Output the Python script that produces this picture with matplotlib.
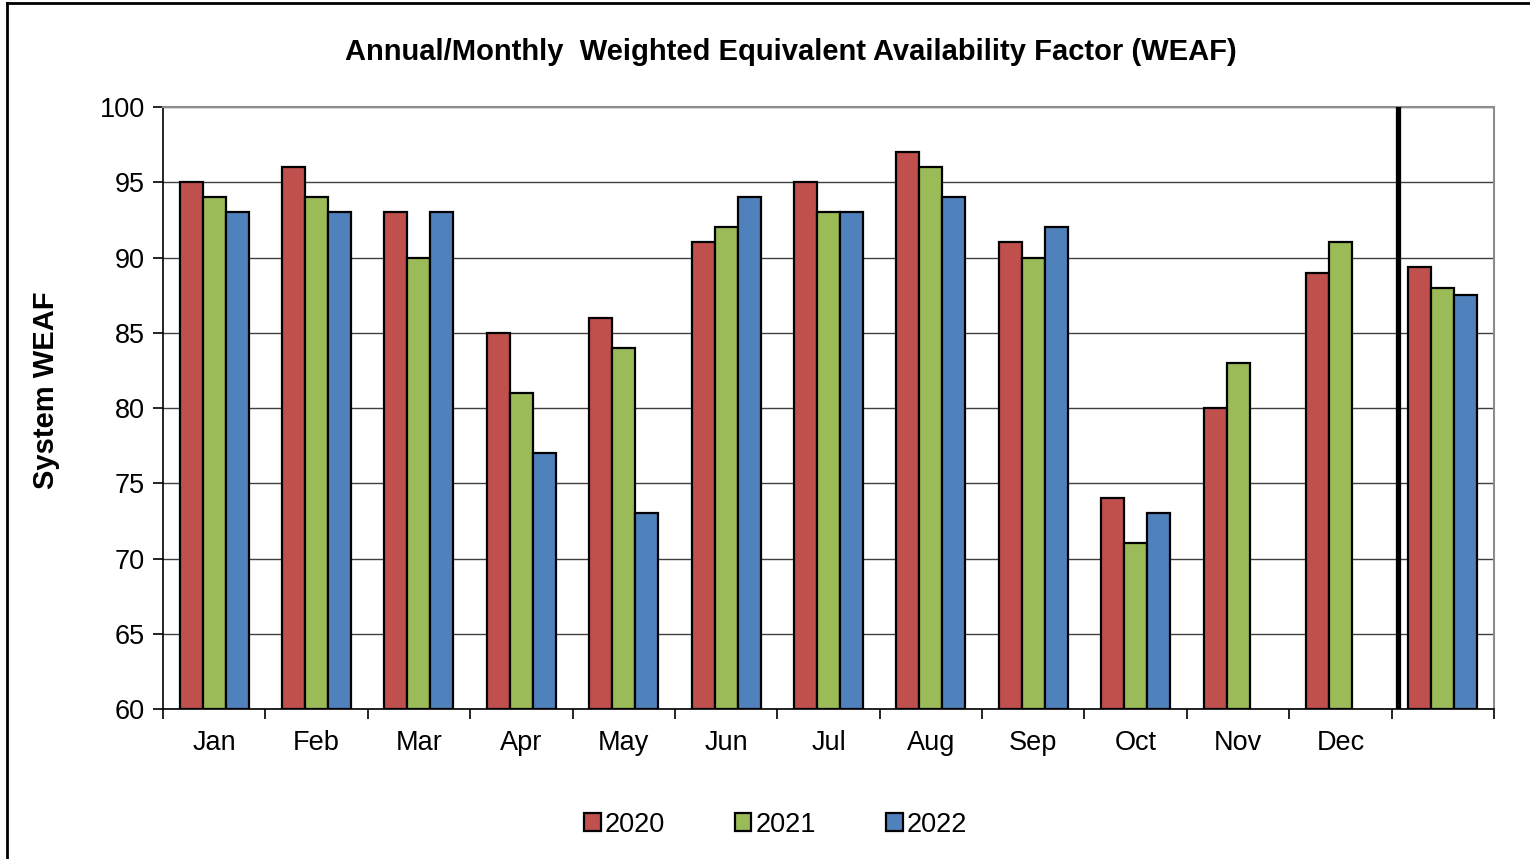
import numpy as np
import matplotlib
matplotlib.use("Agg")
import matplotlib.pyplot as plt
from matplotlib.lines import Line2D

# ── Data ──────────────────────────────────────────────────────────────────────
months = ["Jan", "Feb", "Mar", "Apr", "May", "Jun",
          "Jul", "Aug", "Sep", "Oct", "Nov", "Dec", ""]
years = ["2020", "2021", "2022"]
weaf_2020 = [95, 96, 93, 85, 86, 91, 95, 97, 91, 74, 80, 89, 89.4]
weaf_2021 = [94, 94, 90, 81, 84, 92, 93, 96, 90, 71, 83, 91, 88.0]
weaf_2022 = [93, 93, 93, 77, 73, 94, 93, 94, 92, 73, np.nan, np.nan, 87.5]
colors = ["#C0504D", "#9BBB59", "#4F81BD"]

plt.rcParams["font.family"] = ["Liberation Sans", "DejaVu Sans"]

fig = plt.figure(figsize=(15.3, 8.59), dpi=100)
ax = fig.add_axes([0.1065, 0.1746, 0.870, 0.7008])

x = np.arange(len(months))
width = 0.225
for i, (vals, c, lab) in enumerate(zip([weaf_2020, weaf_2021, weaf_2022], colors, years)):
    vals = np.asarray(vals, dtype=float)
    ok = ~np.isnan(vals)
    ax.bar(x[ok] + (i - 1) * width, vals[ok] - 60, width, bottom=60,
           color=c, edgecolor="black", linewidth=1.6, label=lab, zorder=3)

# separator between monthly and annual groups
ax.axvline(11.56, color="black", linewidth=3.8, zorder=4)

ax.set_xlim(-0.5, len(months) - 0.5)
ax.set_ylim(60, 100)
ax.set_yticks(np.arange(60, 101, 5))
ax.set_xticks(np.arange(-0.5, len(months)), labels=[])
ax.set_xticks(x, labels=months, minor=True)
ax.tick_params(axis="x", which="major", direction="out", length=7, width=1.2, color="black")
ax.tick_params(axis="x", which="minor", length=0, pad=15, labelsize=19.5)
ax.tick_params(axis="y", direction="out", length=7, width=1.2, labelsize=19.5, pad=6)

ax.yaxis.grid(True, color="#404040", linewidth=1.0, zorder=0)
for s in ["top", "right"]:
    ax.spines[s].set_color("#8c8c8c")
    ax.spines[s].set_linewidth(1.5)
for s in ["left", "bottom"]:
    ax.spines[s].set_color("black")
    ax.spines[s].set_linewidth(1.2)

ax.set_ylabel("System WEAF", fontsize=21, fontweight="bold")
ax.yaxis.set_label_coords(-0.077, 0.53)
fig.text(0.517, 0.94, "Annual/Monthly  Weighted Equivalent Availability Factor (WEAF)",
         ha="center", va="center", fontsize=21, fontweight="bold")

handles = [plt.Rectangle((0, 0), 1, 1, facecolor=c, edgecolor="black", linewidth=1.6)
           for c in colors]
fig.legend(handles, years, loc="center", bbox_to_anchor=(0.507, 0.04), ncol=3,
           frameon=False, fontsize=19.5, handlelength=0.6, handleheight=0.6,
           handletextpad=0.15, columnspacing=2.6)

# outer frame lines (top and left)
fig.add_artist(Line2D([0.0046, 1.0], [0.9965, 0.9965], color="black", linewidth=2,
                      transform=fig.transFigure))
fig.add_artist(Line2D([0.0046, 0.0046], [0.0, 0.9965], color="black", linewidth=2,
                      transform=fig.transFigure))

fig.savefig("out.png", dpi=100)
